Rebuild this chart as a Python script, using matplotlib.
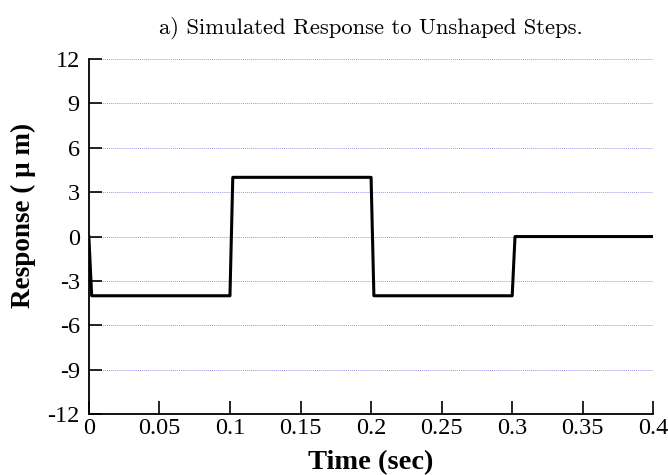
import matplotlib
matplotlib.use("Agg")
import matplotlib.pyplot as plt
import numpy as np

plt.rcParams['axes.unicode_minus'] = False

# data (step transitions)
t = [0.0, 0.002, 0.1, 0.102, 0.2, 0.202, 0.3, 0.302, 0.4]
resp = [0.0, -4.0, -4.0, 4.0, 4.0, -4.0, -4.0, 0.0, 0.0]
xticks = [0, 0.05, 0.1, 0.15, 0.2, 0.25, 0.3, 0.35, 0.4]
xticklabels = ["0", "0.05", "0.1", "0.15", "0.2", "0.25", "0.3", "0.35", "0.4"]
yticks = [-12, -9, -6, -3, 0, 3, 6, 9, 12]

fig = plt.figure(figsize=(6.68, 4.75), dpi=100)
ax = fig.add_axes([0.133, 0.128, 0.845, 0.748])

for y in yticks:
    ax.axhline(y, color="#9a9ae8", lw=0.7, ls=(0, (1, 1)), zorder=0)

ax.plot(t, resp, color="black", lw=2.2, zorder=3)

ax.set_xlim(0, 0.4)
ax.set_ylim(-12, 12)
ax.set_xticks(xticks)
ax.set_xticklabels(xticklabels)
ax.set_yticks(yticks)
ax.set_yticklabels([str(v) for v in yticks])
for s in ["top", "right"]:
    ax.spines[s].set_visible(False)
for s in ["left", "bottom"]:
    ax.spines[s].set_linewidth(1.3)
ax.tick_params(axis="both", direction="in", length=9.5, width=1.2, labelsize=17.5)
ax.tick_params(axis="x", pad=3)
ax.tick_params(axis="y", pad=6.5)
for lab in ax.get_xticklabels() + ax.get_yticklabels():
    lab.set_family("Liberation Serif")

ax.set_title("a) Simulated Response to Unshaped Steps.", fontsize=16.3, family="cmr10", pad=18)
ax.set_xlabel("Time (sec)", fontsize=20.5, family="Liberation Serif", fontweight="bold", labelpad=8)
ax.set_ylabel("Response ( \u03bc m)", fontsize=19.5, family="Liberation Serif", fontweight="bold")
ax.yaxis.set_label_coords(-0.093, 0.56)

fig.savefig("out.png", dpi=100)
